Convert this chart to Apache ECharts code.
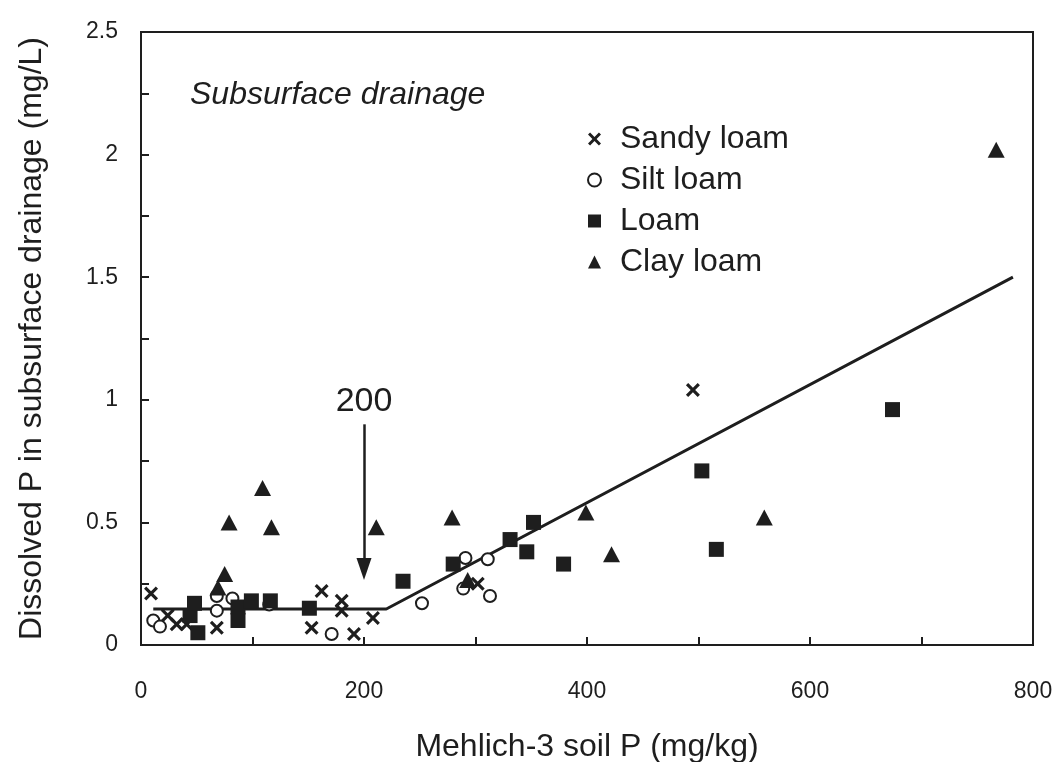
<!DOCTYPE html>
<html>
<head>
<meta charset="utf-8">
<script src="https://cdn.jsdelivr.net/npm/echarts@6/dist/echarts.min.js"></script>
<style>
  html, body { margin: 0; padding: 0; background: #fff; }
  #chart { width: 1058px; height: 762px; }
</style>
</head>
<body>
<div id="chart"></div>
<script>
// Mehlich-3 soil P (mg/kg) vs dissolved P in subsurface drainage (mg/L)
const sandyLoam = [
  [9, 0.21], [24, 0.12], [32, 0.085], [41, 0.085], [68, 0.07], [153, 0.07],
  [162, 0.22], [180, 0.18], [180, 0.14], [191, 0.045], [208, 0.11],
  [302, 0.25], [495, 1.04]
];
const siltLoam = [
  [11, 0.10], [17, 0.075], [68, 0.20], [68, 0.14], [82, 0.19], [115, 0.165],
  [171, 0.045], [252, 0.17], [289, 0.23], [291, 0.355], [311, 0.35], [313, 0.20]
];
const loam = [
  [44, 0.12], [48, 0.17], [51, 0.05], [87, 0.155], [87, 0.10], [99, 0.18],
  [116, 0.18], [151, 0.15], [235, 0.26], [280, 0.33], [331, 0.43], [346, 0.38],
  [352, 0.50], [379, 0.33], [503, 0.71], [516, 0.39], [674, 0.96]
];
const clayLoam = [
  [69, 0.235], [75, 0.29], [79, 0.50], [109, 0.64], [117, 0.48], [211, 0.48],
  [279, 0.52], [293, 0.265], [399, 0.54], [422, 0.37], [559, 0.52], [767, 2.02]
];
// Split-line (change point) fit
const fitLine = [[11, 0.147], [220, 0.147], [782, 1.50]];
const changePoint = 200;
const arrowSpan = [0.90, 0.31];

const xTicks = [0, 200, 400, 600, 800];
const yTicks = [0, 0.5, 1, 1.5, 2, 2.5];

const ink = '#1e1e1e';
const font = 'Liberation Sans, Arial, sans-serif';
const crossPath = 'path://M0,1.6L1.6,0L5,3.4L8.4,0L10,1.6L6.6,5L10,8.4L8.4,10L5,6.6L1.6,10L0,8.4L3.4,5Z';

const chart = echarts.init(document.getElementById('chart'), null, { renderer: 'canvas' });

chart.setOption({
  backgroundColor: '#fff',
  animation: false,
  textStyle: { fontFamily: font, color: ink },
  title: {
    text: 'Subsurface drainage',
    left: 185, top: 74,
    textStyle: { fontFamily: font, fontStyle: 'italic', fontWeight: 'normal', fontSize: 32, color: ink }
  },
  legend: {
    orient: 'vertical',
    left: 582, top: 118,
    itemWidth: 13, itemHeight: 13,
    itemGap: 9,
    textStyle: { fontFamily: font, fontSize: 32, color: ink, padding: [0, 0, 0, 14] },
    data: ['Sandy loam', 'Silt loam', 'Loam', 'Clay loam']
  },
  grid: {
    left: 141, right: 25, top: 32, bottom: 117,
    outerBoundsMode: 'none',
    show: true, borderColor: ink, borderWidth: 2, backgroundColor: 'transparent'
  },
  xAxis: {
    type: 'value', min: 0, max: 800, interval: 200,
    name: 'Mehlich-3 soil P (mg/kg)',
    nameLocation: 'middle', nameGap: 86,
    nameTextStyle: { fontFamily: font, fontSize: 32, color: ink },
    axisLine: { lineStyle: { color: ink, width: 2 } },
    axisTick: { inside: true, length: 8, lineStyle: { color: ink, width: 2 } },
    minorTick: { show: true, splitNumber: 2, length: 8, lineStyle: { color: ink, width: 2 } },
    splitLine: { show: false },
    axisLabel: {
      margin: 35, fontSize: 23, color: ink, fontFamily: font,
      formatter: v => xTicks.includes(v) ? String(v) : ''
    }
  },
  yAxis: {
    type: 'value', min: 0, max: 2.5, interval: 0.5,
    name: 'Dissolved P in subsurface drainage (mg/L)',
    nameLocation: 'middle', nameGap: 93,
    nameTextStyle: { fontFamily: font, fontSize: 32, color: ink },
    axisLine: { lineStyle: { color: ink, width: 2 } },
    axisTick: { inside: true, length: 8, lineStyle: { color: ink, width: 2 } },
    minorTick: { show: true, splitNumber: 2, length: 8, lineStyle: { color: ink, width: 2 } },
    splitLine: { show: false },
    axisLabel: {
      margin: 23, fontSize: 23, color: ink, fontFamily: font,
      formatter: v => yTicks.includes(v) ? String(v) : ''
    }
  },
  series: [
    {
      name: 'Fit', type: 'line', data: fitLine,
      symbol: 'none', lineStyle: { color: ink, width: 3 }, z: 1,
      markLine: {
        silent: true, symbol: ['none', 'triangle'], symbolSize: [15, 22],
        lineStyle: { color: ink, width: 2.5, type: 'solid' },
        label: {
          show: true, position: 'start', distance: 6,
          formatter: String(changePoint), fontSize: 34, color: ink, fontFamily: font
        },
        data: [[{ coord: [changePoint, arrowSpan[0]] }, { coord: [changePoint, arrowSpan[1]] }]]
      }
    },
    {
      name: 'Sandy loam', type: 'scatter', data: sandyLoam,
      symbol: crossPath, symbolSize: 14, z: 3,
      itemStyle: { color: ink, opacity: 1 }
    },
    {
      name: 'Silt loam', type: 'scatter', data: siltLoam,
      symbol: 'circle', symbolSize: 12, z: 3,
      itemStyle: { color: '#fff', borderColor: ink, borderWidth: 2, opacity: 1 }
    },
    {
      name: 'Loam', type: 'scatter', data: loam,
      symbol: 'rect', symbolSize: 15, z: 3,
      itemStyle: { color: ink, opacity: 1 }
    },
    {
      name: 'Clay loam', type: 'scatter', data: clayLoam,
      symbol: 'triangle', symbolSize: [17, 16], z: 3,
      itemStyle: { color: ink, opacity: 1 }
    }
  ]
});
</script>
</body>
</html>
